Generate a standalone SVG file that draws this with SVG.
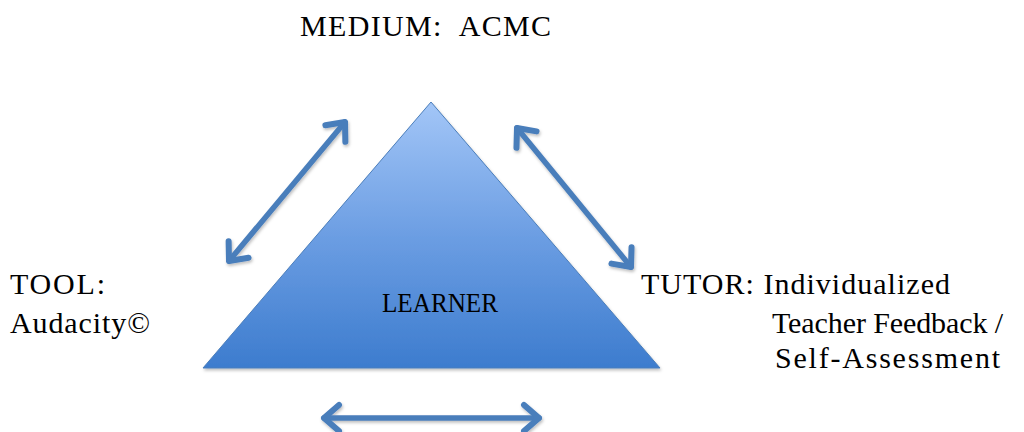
<svg xmlns="http://www.w3.org/2000/svg" width="1024" height="432" viewBox="0 0 1024 432">
  <style>
    text { font-family: 'Liberation Serif', 'Times New Roman', serif; fill: #000; white-space: pre; }
    .lbl { font-size: 30px; }
    .conn { fill: none; stroke: #4a7ebb; stroke-width: 5.5; stroke-linecap: round; marker-start: url(#head); marker-end: url(#head); filter: url(#soft); }
  </style>
  <defs>
    <linearGradient id="triFill" x1="0" y1="0" x2="0" y2="1">
      <stop offset="0" stop-color="#a3c6f7"/>
      <stop offset="0.5" stop-color="#6c9ee3"/>
      <stop offset="1" stop-color="#3d7cce"/>
    </linearGradient>
    <marker id="head" viewBox="-22 -18 26 36" refX="0" refY="0" markerWidth="26" markerHeight="36" markerUnits="userSpaceOnUse" orient="auto-start-reverse">
      <path d="M -15 -13 L 0 0 L -15 13" fill="none" stroke="#4a7ebb" stroke-width="6" stroke-linecap="round" stroke-linejoin="round"/>
    </marker>
    <filter id="soft" filterUnits="userSpaceOnUse" x="0" y="0" width="1024" height="432">
      <feDropShadow dx="1" dy="2" stdDeviation="1.5" flood-color="#000" flood-opacity="0.25"/>
    </filter>
  </defs>

  <!-- central node -->
  <g id="learner">
    <polygon points="431,102 203,368 660,368" fill="url(#triFill)" stroke="#4a7ebb" stroke-width="1" filter="url(#soft)"/>
    <text x="440" y="312" text-anchor="middle" font-size="28" textLength="116" lengthAdjust="spacingAndGlyphs">LEARNER</text>
  </g>

  <g id="medium">
    <text class="lbl" x="300" y="36" textLength="251">MEDIUM:  ACMC</text>
  </g>

  <g id="tool">
    <text class="lbl" x="10" y="294" textLength="95">TOOL:</text>
    <text class="lbl" x="10" y="333" textLength="140">Audacity©</text>
  </g>

  <g id="tutor">
    <text class="lbl" x="641" y="294" textLength="309">TUTOR: Individualized</text>
    <text class="lbl" x="772" y="333" textLength="231">Teacher Feedback /</text>
    <text class="lbl" x="775" y="368" textLength="225">Self-Assessment</text>
  </g>

  <!-- two-way connectors -->
  <g id="connectors">
    <line class="conn" x1="229" y1="261" x2="345" y2="122"/>
    <line class="conn" x1="517" y1="128" x2="631" y2="267"/>
    <line class="conn" x1="324" y1="418" x2="539" y2="418"/>
  </g>
</svg>
